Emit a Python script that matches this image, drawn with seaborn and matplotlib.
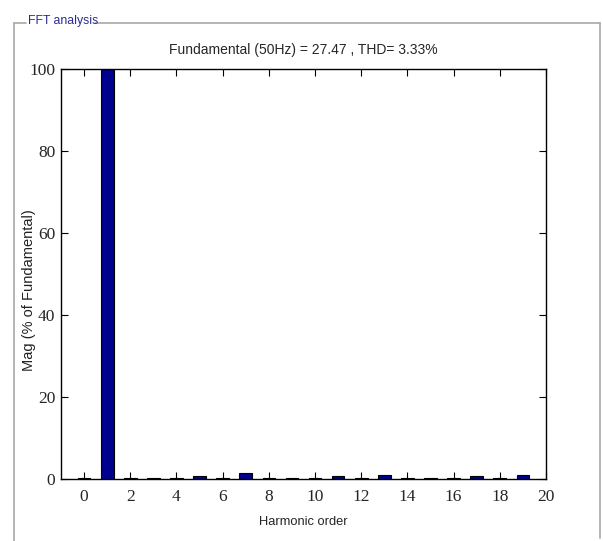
import numpy as np
import pandas as pd
import matplotlib
matplotlib.use("Agg")
import matplotlib.pyplot as plt
from matplotlib.lines import Line2D
import seaborn as sns

# harmonic spectrum, % of fundamental
harmonics = list(range(20))
magnitude = [0.3, 100, 0.3, 0.25, 0.3, 0.7, 0.3, 1.4, 0.3, 0.25,
             0.3, 0.7, 0.3, 1.0, 0.3, 0.25, 0.3, 0.7, 0.3, 1.0]
title_text = "Fundamental (50Hz) = 27.47 , THD= 3.33%"
panel_title = "FFT analysis"

df = pd.DataFrame({"harmonic": harmonics, "mag": magnitude})

sns.set_theme(style="white")
plt.rcParams["font.family"] = ["Liberation Sans", "DejaVu Sans"]

W, H = 603, 541
fig = plt.figure(figsize=(W / 100, H / 100), dpi=100)
fig.patch.set_facecolor("white")
ax = fig.add_axes([61 / W, 1 - 479 / H, (546 - 61) / W, (479 - 69) / H])

sns.barplot(data=df, x="harmonic", y="mag", native_scale=True, width=0.55,
            color="#00008F", edgecolor="black", linewidth=0.8, saturation=1, ax=ax)

ax.set_xlim(-1, 20)
ax.set_ylim(0, 100)
ax.set_xticks(range(0, 21, 2))
ax.set_yticks(range(0, 101, 20))
serif = ["Liberation Serif", "DejaVu Serif"]
ax.set_xticklabels([str(v) for v in range(0, 21, 2)], family=serif, fontsize=12.5)
ax.set_yticklabels([str(v) for v in range(0, 101, 20)], family=serif, fontsize=12.5)
ax.tick_params(direction="in", length=5, width=0.8, color="black",
               top=True, right=True, bottom=True, left=True)
ax.tick_params(axis="x", pad=7)
ax.tick_params(axis="y", pad=4)
for s in ax.spines.values():
    s.set_color("black")
    s.set_linewidth(1.0)
ax.grid(False)

ax.set_title(title_text, fontsize=10, pad=11)
ax.set_xlabel("Harmonic order", fontsize=9.3, labelpad=8)
ax.set_ylabel("Mag (% of Fundamental)", fontsize=10.5, color="#222222")
ax.yaxis.set_label_coords(-0.052, 0.46)

# group box frame around the plot
gray = "#a8a8a8"
def px_line(x0, y0, x1, y1):
    fig.add_artist(Line2D([x0 / W, x1 / W], [1 - y0 / H, 1 - y1 / H],
                          color=gray, linewidth=1.2, transform=fig.transFigure))
px_line(14, 23, 26, 23)
px_line(95, 23, 600, 23)
px_line(14, 23, 14, 541)
px_line(600, 23, 600, 538)
fig.text(28 / W, 1 - 21 / H, panel_title, color="#2a2a96", fontsize=8.8,
         ha="left", va="center")

fig.savefig("out.png", dpi=100, facecolor="white")
